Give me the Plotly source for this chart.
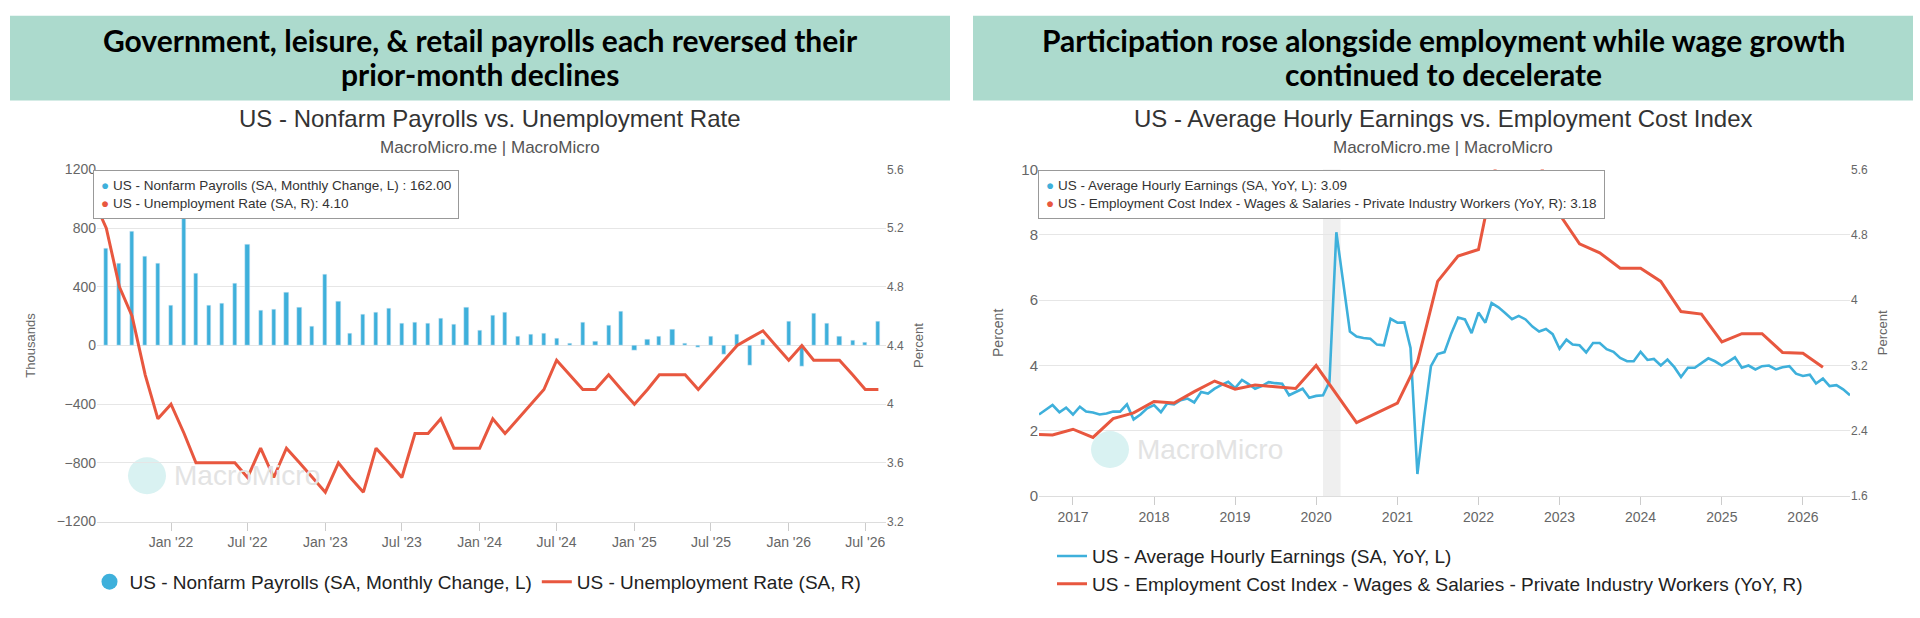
import plotly.graph_objects as go
import pandas as pd

# ---------------- Left chart data ----------------
nfp_months = pd.date_range("2021-08-01", periods=61, freq="MS")
nfp_values = [662, 557, 780, 608, 562, 271, 900, 493, 271, 284, 420, 686, 238, 249, 362, 258,
              133, 484, 302, 82, 211, 224, 255, 149, 155, 153, 184, 140, 262, 102, 206, 224,
              62, 73, 82, 49,
              12, 155, 29, 138, 233, -33, 38, 62, 109, 11, -11, 62, -64, 78, -133, 38, 0,
              162, -142, 215, 151, 62, 31, 20, 162]
ur_months = pd.date_range("2021-07-01", periods=62, freq="MS")
ur_values = [5.4, 5.2, 4.8, 4.6, 4.2, 3.9, 4.0, 3.8, 3.6, 3.6, 3.6, 3.6, 3.5, 3.7, 3.5, 3.7,
             3.6, 3.5, 3.4, 3.6, 3.5, 3.4, 3.7, 3.6, 3.5, 3.8, 3.8, 3.9, 3.7, 3.7, 3.7, 3.9,
             3.8, 3.9, 4.0, 4.1, 4.3,
             4.2, 4.1, 4.1, 4.2, 4.1, 4.0, 4.1, 4.2, 4.2, 4.2, 4.1, 4.2, 4.3, 4.4, 4.45, 4.5,
             4.4, 4.3, 4.4, 4.3, 4.3, 4.3, 4.2, 4.1, 4.1]

# ---------------- Right chart data ----------------
ahe_months = pd.date_range("2016-08-01", periods=121, freq="MS")
ahe_values = [2.50, 2.65, 2.79, 2.57, 2.71, 2.50, 2.74, 2.59, 2.56, 2.50, 2.53, 2.59, 2.59, 2.81,
              2.35, 2.50, 2.69, 2.79, 2.57, 2.84, 2.81, 2.94, 2.99, 2.87, 3.19, 3.14, 3.29, 3.41,
              3.50, 3.31, 3.56, 3.44, 3.29, 3.37, 3.49, 3.46, 3.44, 3.09, 3.19, 3.29, 3.01, 3.07,
              3.09, 3.50,
              8.08, 6.60, 5.04, 4.89, 4.84, 4.82, 4.64, 4.62, 5.43, 5.31, 5.32, 4.54, 0.68, 2.40,
              3.98, 4.35, 4.41, 4.99, 5.47, 5.41, 4.99, 5.62, 5.31, 5.91, 5.78, 5.61, 5.42, 5.52,
              5.41, 5.19, 5.04, 5.12, 4.96,
              4.51, 4.79, 4.64, 4.62, 4.40, 4.69, 4.69, 4.50, 4.42, 4.23, 4.13, 4.13, 4.42, 4.17,
              4.20, 4.00, 4.18, 3.95, 3.65, 3.93, 3.93, 4.08, 4.22, 4.13, 4.00, 4.13, 4.25, 3.93,
              4.00, 3.88, 3.98, 4.00, 3.88, 3.95, 3.98, 3.75, 3.68, 3.72, 3.45, 3.60, 3.37, 3.40,
              3.27, 3.09]
eci_quarters = pd.date_range("2016-07-01", periods=40, freq="QS-JAN")
eci_values = [2.36, 2.35, 2.42, 2.32, 2.55, 2.62, 2.76, 2.74, 2.88, 3.01, 2.91, 2.96, 2.94, 2.92,
              3.20, 2.85, 2.50, 2.62, 2.74, 3.24, 4.23, 4.54, 4.62, 5.80, 5.90, 5.70, 5.05, 4.69,
              4.58, 4.39, 4.39, 4.23, 3.86, 3.83, 3.49, 3.59, 3.59, 3.36, 3.35, 3.18]

BLUE = "#3eb0db"
RED = "#e8573f"
GRID = "#e6e6e6"
TICK = "#666666"
FONT = "Liberation Sans"
W, H = 1920, 618

def px(x):
    return x / W

def py(y):
    return 1 - y / H

fig = go.Figure()

fig.add_trace(go.Bar(x=nfp_months, y=nfp_values, marker_color=BLUE, width=8.5e8,
                     xaxis="x", yaxis="y", showlegend=False))
fig.add_trace(go.Scatter(x=[None], y=[None], mode="markers", xaxis="x", yaxis="y",
                         marker=dict(color=BLUE, size=17, symbol="circle"),
                         name="US - Nonfarm Payrolls (SA, Monthly Change, L)", legend="legend"))
fig.add_trace(go.Scatter(x=ur_months, y=ur_values, mode="lines", xaxis="x", yaxis="y2",
                         line=dict(color=RED, width=3),
                         name="US - Unemployment Rate (SA, R)", legend="legend"))

fig.add_trace(go.Scatter(x=ahe_months, y=ahe_values, mode="lines", xaxis="x2", yaxis="y3",
                         line=dict(color=BLUE, width=2.6),
                         name="US - Average Hourly Earnings (SA, YoY, L)", legend="legend2"))
fig.add_trace(go.Scatter(x=eci_quarters, y=eci_values, mode="lines", xaxis="x2", yaxis="y4",
                         line=dict(color=RED, width=3),
                         name="US - Employment Cost Index - Wages & Salaries - Private Industry Workers (YoY, R)",
                         legend="legend2"))

ydom = [py(527), py(165)]
ydom_r = [py(501), py(165)]
common_x = dict(showgrid=False, ticks="outside", ticklen=8, tickcolor="#cccccc",
                showline=True, linecolor="#dddddd", tickfont=dict(family=FONT, size=14, color=TICK))
fig.update_layout(
    width=W, height=H, autosize=False, margin=dict(l=0, r=0, t=0, b=0),
    paper_bgcolor="white", plot_bgcolor="white", bargap=0,
    font=dict(family=FONT, color="#333"),
    xaxis=dict(domain=[px(97), px(886)], type="date", range=["2021-07-10", "2026-08-19"],
               tickformat="%b '%y", dtick="M6", tick0="2022-01-01", anchor="y", **common_x),
    yaxis=dict(domain=ydom, range=[-1200, 1200], dtick=400, gridcolor=GRID, zeroline=False,
               tickfont=dict(family=FONT, size=14, color=TICK), anchor="x",
               title=dict(text="Thousands", font=dict(family=FONT, size=13, color=TICK), standoff=18)),
    yaxis2=dict(overlaying="y", side="right", range=[3.2, 5.6], dtick=0.4, tick0=3.2,
                showgrid=False, zeroline=False, anchor="x",
                tickfont=dict(family=FONT, size=12, color=TICK),
                title=dict(text="Percent", font=dict(family=FONT, size=13, color=TICK), standoff=10)),
    xaxis2=dict(domain=[px(1039), px(1850)], type="date", range=["2016-08-01", "2026-08-01"],
                tickformat="%Y", dtick="M12", tick0="2017-01-01", anchor="y3", **common_x),
    yaxis3=dict(domain=ydom_r, range=[0, 10], dtick=2, gridcolor=GRID, zeroline=False,
                tickfont=dict(family=FONT, size=15, color=TICK), anchor="x2",
                title=dict(text="Percent", font=dict(family=FONT, size=14, color=TICK), standoff=14)),
    yaxis4=dict(overlaying="y3", side="right", range=[1.6, 5.6], dtick=0.8, tick0=1.6,
                showgrid=False, zeroline=False, anchor="x2",
                tickfont=dict(family=FONT, size=12, color=TICK),
                title=dict(text="Percent", font=dict(family=FONT, size=13, color=TICK), standoff=10)),
    legend=dict(orientation="h", x=px(478), xanchor="center", y=py(589), yanchor="middle",
                font=dict(family=FONT, size=19, color="#222"), itemwidth=30, bgcolor="rgba(0,0,0,0)"),
    legend2=dict(orientation="v", x=px(1052), xanchor="left", y=py(577), yanchor="middle",
                 font=dict(family=FONT, size=19, color="#222"), itemwidth=30, tracegroupgap=0,
                 bgcolor="rgba(0,0,0,0)"),
)

shapes = [
    dict(type="rect", xref="paper", yref="paper", x0=px(10), x1=px(950), y0=py(94), y1=py(7),
         fillcolor="#acdacd", line=dict(width=0), layer="below"),
    dict(type="rect", xref="paper", yref="paper", x0=px(973), x1=px(1913), y0=py(94), y1=py(7),
         fillcolor="#acdacd", line=dict(width=0), layer="below"),
    dict(type="rect", xref="x2", yref="paper", x0="2020-02-01", x1="2020-04-20",
         y0=ydom_r[0], y1=ydom_r[1], fillcolor="#efefef", line=dict(width=0), layer="below"),
    dict(type="circle", xref="paper", yref="paper", x0=px(128), x1=px(166), y0=py(499), y1=py(461),
         fillcolor="#d9f2f2", line=dict(width=0), layer="below"),
    dict(type="circle", xref="paper", yref="paper", x0=px(1091), x1=px(1129), y0=py(472), y1=py(434),
         fillcolor="#d9f2f2", line=dict(width=0), layer="below"),
]
fig.update_layout(shapes=shapes)

ann = []
def add(text, x, y, size, color="#222", family=FONT, xanchor="center", **kw):
    ann.append(dict(text=text, x=px(x), y=py(y), xref="paper", yref="paper", showarrow=False,
                    xanchor=xanchor, yanchor="middle",
                    font=dict(family=family, size=size, color=color), **kw))

add("<b>Government, leisure, & retail payrolls each reversed their</b>", 480, 32, 30, color="#000", family="Lato")
add("<b>prior-month declines</b>", 480, 67, 30, color="#000", family="Lato")
add("<b>Participation rose alongside employment while wage growth</b>", 1443, 32, 30, color="#000", family="Lato")
add("<b>continued to decelerate</b>", 1443, 67, 30, color="#000", family="Lato")
add("US - Nonfarm Payrolls vs. Unemployment Rate", 490, 113, 24, color="#333")
add("MacroMicro.me | MacroMicro", 490, 142, 17, color="#555")
add("US - Average Hourly Earnings vs. Employment Cost Index", 1443, 113, 24, color="#333")
add("MacroMicro.me | MacroMicro", 1443, 142, 17, color="#555")
add("MacroMicro", 172, 480, 28, color="#e3e3e3", xanchor="left")
add("MacroMicro", 1135, 453, 28, color="#e3e3e3", xanchor="left")

tip_l = (f"<span style='color:{BLUE}'>●</span> US - Nonfarm Payrolls (SA, Monthly Change, L) : 162.00<br>"
         f"<span style='color:{RED}'>●</span> US - Unemployment Rate (SA, R): 4.10")
tip_r = (f"<span style='color:{BLUE}'>●</span> US - Average Hourly Earnings (SA, YoY, L): 3.09<br>"
         f"<span style='color:{RED}'>●</span> US - Employment Cost Index - Wages & Salaries - Private Industry Workers (YoY, R): 3.18")
for t, x in [(tip_l, 93), (tip_r, 1038)]:
    ann.append(dict(text=t, x=px(x), y=py(166), xref="paper", yref="paper", showarrow=False,
                    xanchor="left", yanchor="top", align="left", bgcolor="white",
                    bordercolor="#999", borderwidth=1, borderpad=7,
                    font=dict(family=FONT, size=13.5, color="#333")))
fig.update_layout(annotations=ann)

fig.write_html("out.html", config={"displayModeBar": False, "responsive": False},
               post_script="document.body.style.margin='0';document.documentElement.style.margin='0';document.body.style.overflow='hidden';")
